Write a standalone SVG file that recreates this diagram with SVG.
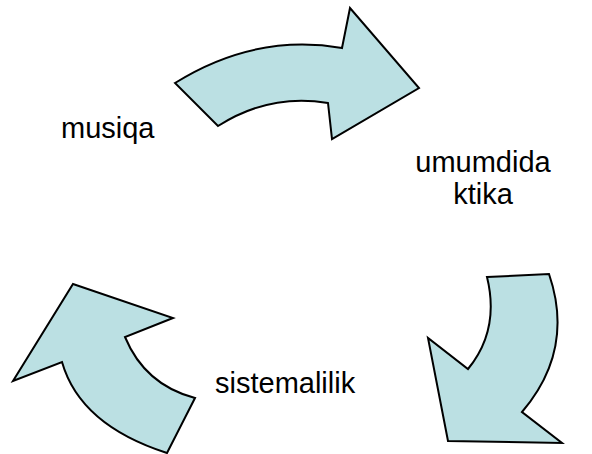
<svg xmlns="http://www.w3.org/2000/svg" width="592" height="454" viewBox="0 0 592 454">
<style>
.arrow{fill:#BBE0E3;stroke:#000;stroke-width:2;stroke-linejoin:miter}
.lbl{font-family:"Liberation Sans",Arial,sans-serif;font-size:29px;fill:#000}
</style>
<rect width="592" height="454" fill="#fff"/>
<g id="connectors">
<path id="arrow-top" class="arrow" d="M175,83 Q255,33 342,48 L350,8 L419,88 L332,139 L328,103 Q270,93 218,126 Z"/>
<path id="arrow-right" class="arrow" d="M487,277 L549,274 Q575,350 522,412 L562,443 L448,441 L428,338 L468,369 Q500,330 487,277 Z"/>
<path id="arrow-left" class="arrow" d="M195,398 L167,453 Q80,425 62,362 L13,381 L73,284 L173,318 L125,337 Q145,385 195,398 Z"/>
</g>
<g id="node-musiqa"><text class="lbl" x="61" y="138">musiqa</text></g>
<g id="node-umumdidaktika"><text class="lbl" x="483" y="172" text-anchor="middle">umumdida</text><text class="lbl" x="483" y="204" text-anchor="middle">ktika</text></g>
<g id="node-sistemalilik"><text class="lbl" x="215" y="393">sistemalilik</text></g>
</svg>
